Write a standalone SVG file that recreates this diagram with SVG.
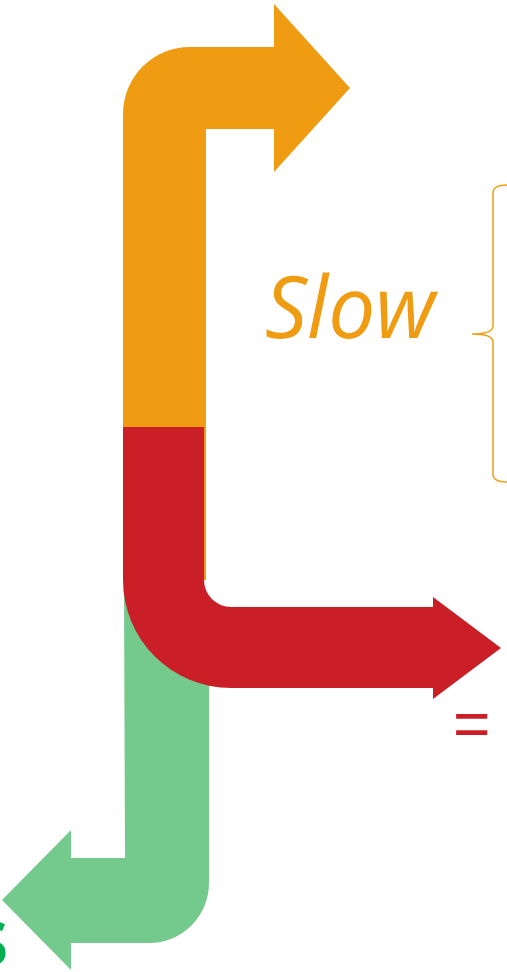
<svg xmlns="http://www.w3.org/2000/svg" width="507" height="972" viewBox="0 0 507 972">
<style>
.lbl{font-family:"Open Sans","Noto Sans","Liberation Sans",sans-serif}
</style>
<rect width="507" height="972" fill="#ffffff"/>
<g id="connectors">
<g id="green-arrow"><path d="M124,585 L200,585 L209,612 L209,883 A60,60 0 0 1 149,943 L71,943 L71,970 L2,900 L71,830 L71,858 L125,858 Z" fill="#74C98D"/></g>
<g id="orange-arrow"><path d="M123,580 L123,114 A67,67 0 0 1 190,47 L274,47 L274,4 L350,88 L274,172 L274,129 L206,129 L206,580 Z" fill="#F09C12"/></g>
<g id="red-arrow"><path d="M123,427 L204,427 L204,580 A27,27 0 0 0 231,607 L433,607 L433,597 L501,648 L433,699 L433,688 L231,688 A108,108 0 0 1 123,580 Z" fill="#CB1F27"/></g>
</g>
<g id="brace"><path d="M507,185 Q493,185 493,193 L493,326 Q493,334 472,334 Q493,334 493,342 L493,474 Q493,482 507,482" fill="none" stroke="#F39C12" stroke-width="1.5"/></g>
<g id="slow-label"><text class="lbl" x="265" y="338" font-size="86" font-style="italic" fill="#F09C12" textLength="170" lengthAdjust="spacingAndGlyphs">Slow</text></g>
<g id="equal-label"><text x="453" y="746" font-family="Liberation Sans, Arial, sans-serif" font-size="64" fill="#CB1F27">=</text></g>
<g id="green-label"><text class="lbl" x="9" y="965" font-size="80" font-weight="600" fill="#00B050" text-anchor="end">s</text></g>
</svg>
